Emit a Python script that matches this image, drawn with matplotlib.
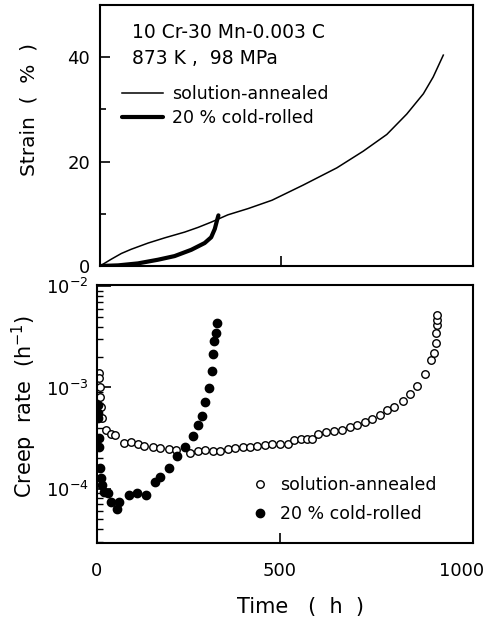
import matplotlib
matplotlib.use("Agg")
import matplotlib.pyplot as plt
from matplotlib.ticker import LogLocator, NullFormatter, FixedLocator

# ---------------- data ----------------
# Strain curves (top panel)
sa_strain_t = [0, 31, 59, 86, 133, 179, 234, 271, 307, 353, 409, 475, 561, 654, 727, 792,
               847, 893, 920, 948]
sa_strain = [0, 1.3, 2.4, 3.2, 4.4, 5.4, 6.5, 7.4, 8.4, 9.8, 11.0, 12.6, 15.5, 18.8, 22.0,
             25.2, 29.1, 33.0, 36.2, 40.4]

cr_strain_t = [0, 50, 105, 160, 206, 252, 289, 307, 317, 323, 327]
cr_strain = [0, 0.12, 0.5, 1.2, 1.9, 3.1, 4.4, 5.5, 7.1, 8.7, 9.7]

# Creep rate (bottom panel)
sa_rate_t = [5, 6, 7, 9, 11, 14, 25, 38, 49, 73, 92, 111, 130, 153, 173, 196, 217, 255, 278,
             296, 317, 337, 358, 378, 399, 420, 439, 459, 480, 502, 523, 541, 558, 576, 589,
             606, 626, 649, 671, 693, 713, 733, 754, 775, 795, 814, 838, 858, 877, 899, 915,
             923, 929, 929, 931, 931, 931]
sa_rate = [1.39e-3, 1.24e-3, 1.0e-3, 8.0e-4, 6.4e-4, 5.0e-4, 3.8e-4, 3.5e-4, 3.4e-4, 2.8e-4,
           2.9e-4, 2.75e-4, 2.65e-4, 2.55e-4, 2.5e-4, 2.45e-4, 2.4e-4, 2.27e-4, 2.35e-4,
           2.4e-4, 2.35e-4, 2.35e-4, 2.45e-4, 2.5e-4, 2.55e-4, 2.55e-4, 2.65e-4, 2.7e-4,
           2.75e-4, 2.75e-4, 2.75e-4, 3.0e-4, 3.1e-4, 3.1e-4, 3.1e-4, 3.45e-4, 3.65e-4,
           3.7e-4, 3.8e-4, 4.1e-4, 4.3e-4, 4.6e-4, 4.85e-4, 5.4e-4, 6.0e-4, 6.4e-4, 7.3e-4,
           8.6e-4, 1.03e-3, 1.36e-3, 1.86e-3, 2.19e-3, 2.75e-3, 3.45e-3, 4.1e-3, 4.6e-3, 5.2e-3]

cr_rate_t = [2, 3, 4, 5, 6, 8, 10, 14, 20, 30, 37, 55, 60, 88, 110, 134, 159, 173, 197, 219,
             241, 263, 277, 288, 296, 307, 315, 318, 321, 326, 329]
cr_rate = [6.7e-4, 5.6e-4, 5.0e-4, 3.15e-4, 2.6e-4, 1.6e-4, 1.26e-4, 1.08e-4, 9.2e-5, 9.0e-5,
           7.3e-5, 6.3e-5, 7.4e-5, 8.6e-5, 9.0e-5, 8.6e-5, 1.16e-4, 1.29e-4, 1.59e-4, 2.09e-4,
           2.57e-4, 3.3e-4, 4.24e-4, 5.2e-4, 7.2e-4, 9.8e-4, 1.45e-3, 2.14e-3, 2.88e-3,
           3.45e-3, 4.35e-3]

labels = ["solution-annealed", "20 % cold-rolled"]
title_lines = ["10 Cr-30 Mn-0.003 C", "873 K ,  98 MPa"]
strain_ticks = [0, 20, 40]
time_ticks = [0, 500, 1000]
rate_ticks = [1e-4, 1e-3, 1e-2]
rate_ticklabels = [r"$10^{-4}$", r"$10^{-3}$", r"$10^{-2}$"]

# ---------------- figure ----------------
plt.rcParams["font.family"] = ["DejaVu Sans"]
plt.rcParams["axes.linewidth"] = 1.5

W, H = 490, 619
fig = plt.figure(figsize=(W / 100, H / 100), dpi=100)
ax1 = fig.add_axes([100 / W, 1 - 266 / H, 373 / W, 261 / H])
ax2 = fig.add_axes([97 / W, 1 - 543 / H, 376 / W, 258 / H])

# ---- top panel: strain ----
ax1.plot(sa_strain_t, sa_strain, color="black", lw=1.1, label=labels[0])
ax1.plot(cr_strain_t, cr_strain, color="black", lw=3.0, solid_capstyle="round",
         solid_joinstyle="round", label=labels[1])
ax1.set_xlim(0, 1030)
ax1.set_ylim(0, 50)
ax1.set_yticks(strain_ticks)
ax1.yaxis.set_minor_locator(FixedLocator([10, 30]))
ax1.set_xticks([500])
ax1.set_xticklabels([])
ax1.tick_params(axis="both", which="major", direction="in", length=7, width=1.2,
                labelsize=13, pad=7)
ax1.tick_params(axis="y", which="minor", direction="in", length=4, width=1.2)
ax1.set_ylabel("Strain  (  %  )", fontsize=14.5)
ax1.yaxis.set_label_coords(-0.165, 0.6)

ax1.text(0.085, 0.895, title_lines[0], transform=ax1.transAxes, fontsize=13.5,
         ha="left", va="center")
ax1.text(0.085, 0.795, title_lines[1], transform=ax1.transAxes, fontsize=13.5,
         ha="left", va="center")
ax1.legend(loc="upper left", bbox_to_anchor=(0.059, 0.695), frameon=False,
           fontsize=12.5, handlelength=2.36, handletextpad=0.52, labelspacing=0.36,
           borderaxespad=0, borderpad=0)

# ---- bottom panel: creep rate ----
ax2.plot(sa_rate_t, sa_rate, linestyle="none", marker="o", markersize=5.4,
         markerfacecolor="white", markeredgecolor="black", markeredgewidth=1.0,
         label=labels[0])
ax2.plot(cr_rate_t, cr_rate, linestyle="none", marker="o", markersize=6.0,
         markerfacecolor="black", markeredgecolor="black", label=labels[1])
ax2.set_yscale("log")
ax2.set_xlim(0, 1030)
ax2.set_ylim(2.9e-5, 1.03e-2)
ax2.set_yticks(rate_ticks)
ax2.set_yticklabels(rate_ticklabels)
ax2.yaxis.set_minor_locator(LogLocator(base=10, subs=range(2, 10), numticks=20))
ax2.yaxis.set_minor_formatter(NullFormatter())
ax2.set_xticks(time_ticks)
ax2.tick_params(axis="both", which="major", direction="in", length=10, width=1.2,
                labelsize=13, pad=6)
ax2.tick_params(axis="x", which="major", length=7, pad=14)
ax2.tick_params(axis="y", which="minor", direction="in", length=4, width=1.0)
for i, tk in enumerate(ax2.xaxis.get_major_ticks()):
    if i != 1:
        tk.tick1line.set_visible(False)
ax2.set_xlabel("Time   (  h  )", fontsize=15)
ax2.xaxis.set_label_coords(0.54, -0.21)
ax2.set_ylabel(r"Creep  rate  (h$^{-1}$)", fontsize=15)
ax2.yaxis.set_label_coords(-0.155, 0.53)
ax2.legend(loc="upper left", bbox_to_anchor=(0.41, 0.26), frameon=False,
           fontsize=12.5, handlelength=1.0, handletextpad=0.65, labelspacing=0.64,
           borderaxespad=0, borderpad=0)

fig.savefig("out.png", dpi=100)
